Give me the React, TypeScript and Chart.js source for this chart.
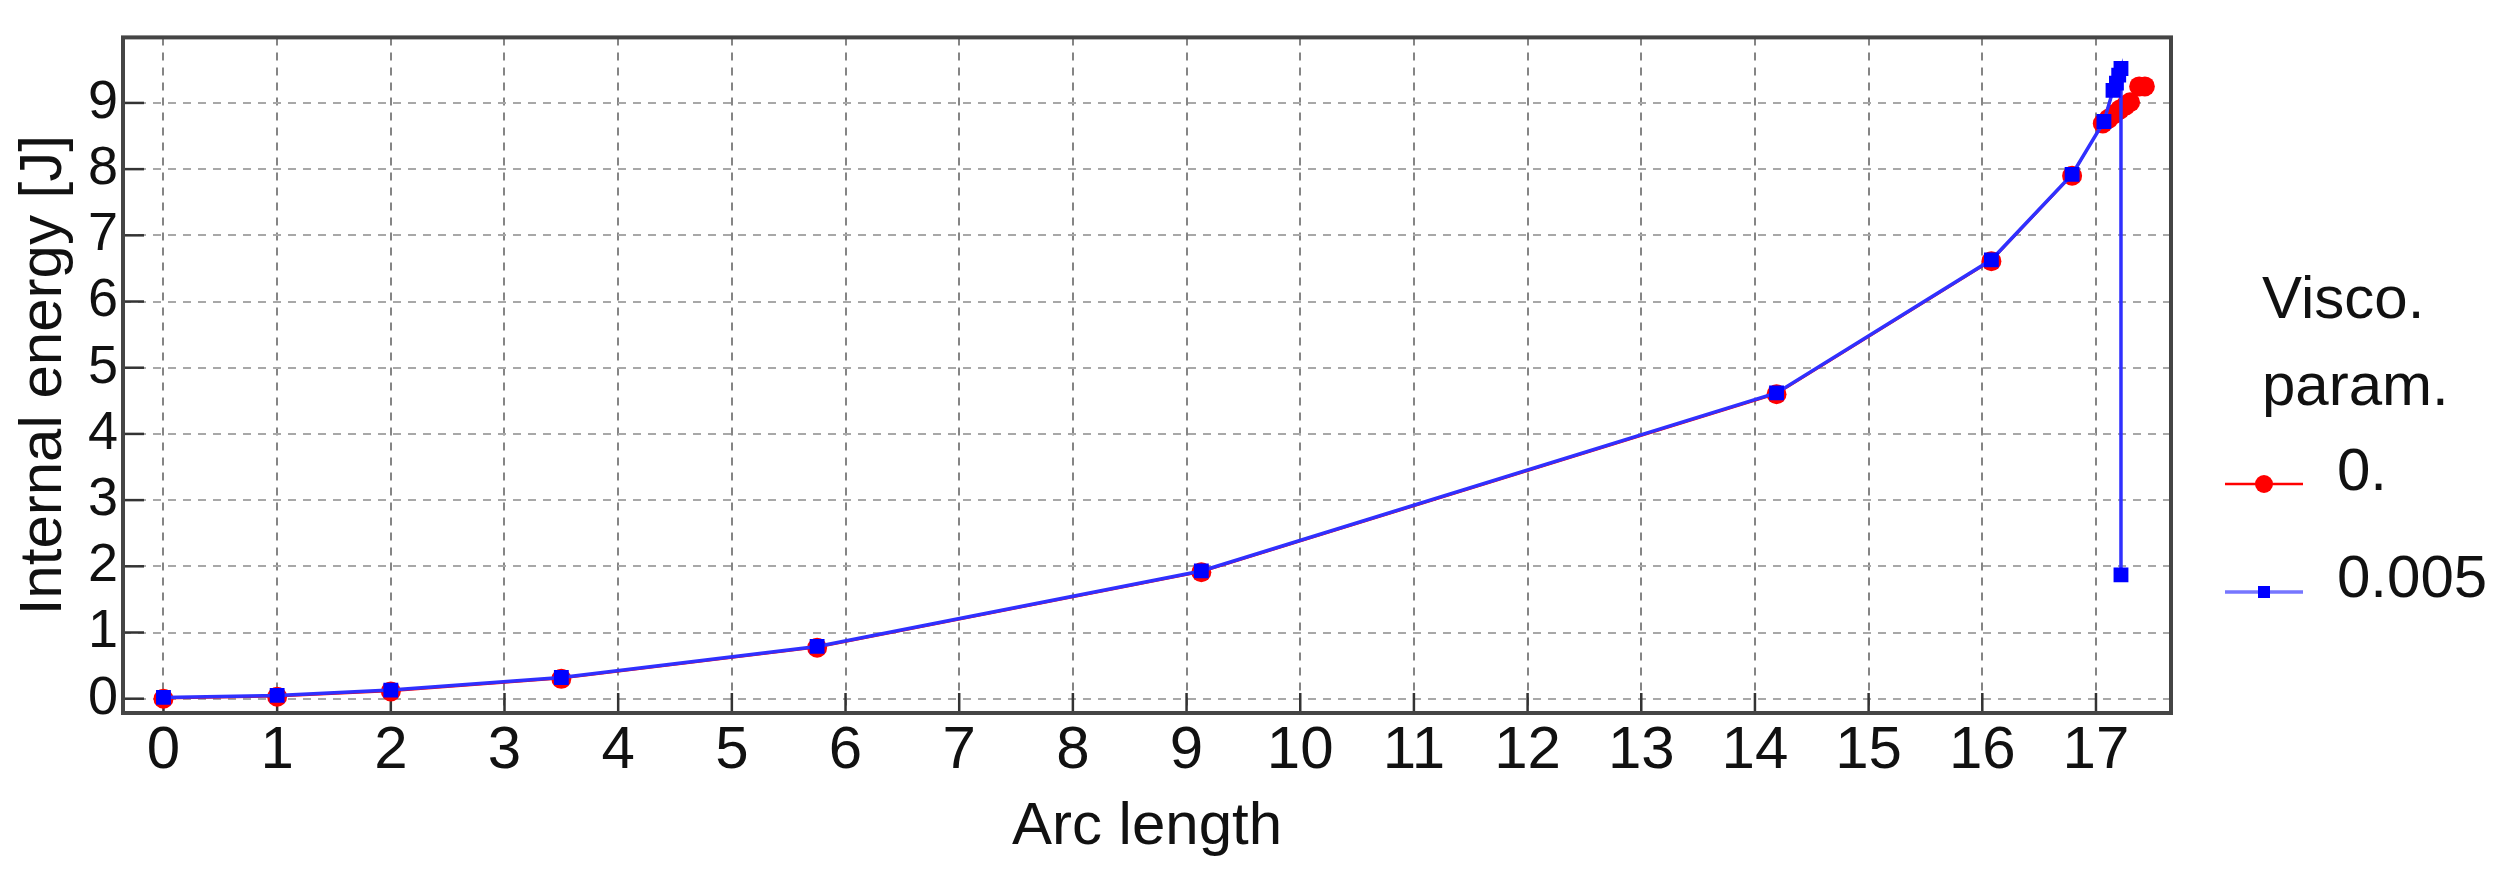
import React, { useEffect, useRef } from "react";
import { Chart, registerables } from "chart.js";

Chart.register(...registerables);

// ---- data ----
const seriesLabels = ["0.", "0.005"];
const legendTitle = ["Visco.", "param."];
const xTitle = "Arc length";
const yTitle = "Internal energy [J]";

const redX = [0, 1, 2, 3.5, 5.75, 9.13, 14.19, 16.08, 16.79, 17.06, 17.11, 17.16, 17.21, 17.26, 17.3, 17.38, 17.43];
const redY = [0.0, 0.03, 0.11, 0.3, 0.77, 1.91, 4.6, 6.61, 7.9, 8.69, 8.76, 8.83, 8.9, 8.96, 9.01, 9.25, 9.25];

const blueX = [0, 1, 2, 3.5, 5.75, 9.13, 14.19, 16.08, 16.79, 17.07, 17.15, 17.18, 17.2, 17.22, 17.22];
const blueY = [0.02, 0.05, 0.13, 0.32, 0.79, 1.93, 4.62, 6.63, 7.92, 8.72, 9.19, 9.3, 9.42, 9.52, 1.87];

const xTicks = [0, 1, 2, 3, 4, 5, 6, 7, 8, 9, 10, 11, 12, 13, 14, 15, 16, 17];
const yTicks = [0, 1, 2, 3, 4, 5, 6, 7, 8, 9];

const RED = "#ff0000";
const BLUE = "#0000ff";
const BLUE_LINE = "#3030ff";
const FONT = "'Liberation Sans', Arial, sans-serif";

const toPts = (xs: number[], ys: number[]) => xs.map((x, i) => ({ x, y: ys[i] }));

const decorPlugin = {
  id: "decor",
  beforeDatasetsDraw(chart: any) {
    const { ctx, chartArea, scales } = chart;
    ctx.save();
    ctx.strokeStyle = "#333";
    ctx.lineWidth = 2.5;
    ctx.setLineDash([]);
    xTicks.forEach((v) => {
      const px = scales.x.getPixelForValue(v);
      ctx.beginPath();
      ctx.moveTo(px, chartArea.bottom);
      ctx.lineTo(px, chartArea.bottom - 20);
      ctx.stroke();
    });
    yTicks.forEach((v) => {
      const py = scales.y.getPixelForValue(v);
      ctx.beginPath();
      ctx.moveTo(chartArea.left, py);
      ctx.lineTo(chartArea.left + 21, py);
      ctx.stroke();
    });
    ctx.restore();
  },
  afterDraw(chart: any) {
    const { ctx, chartArea } = chart;
    ctx.save();
    ctx.setLineDash([]);
    ctx.strokeStyle = "#454545";
    ctx.lineWidth = 4;
    ctx.strokeRect(chartArea.left, chartArea.top, chartArea.right - chartArea.left, chartArea.bottom - chartArea.top);

    const lx = chartArea.right;
    ctx.fillStyle = "#111";
    ctx.font = `60px ${FONT}`;
    ctx.textBaseline = "alphabetic";
    ctx.textAlign = "left";
    ctx.fillText(legendTitle[0], lx + 91, 318);
    ctx.fillText(legendTitle[1], lx + 91, 405);

    ctx.strokeStyle = RED;
    ctx.lineWidth = 2.5;
    ctx.beginPath();
    ctx.moveTo(lx + 54, 484);
    ctx.lineTo(lx + 132, 484);
    ctx.stroke();
    ctx.fillStyle = RED;
    ctx.beginPath();
    ctx.arc(lx + 93, 484, 9, 0, Math.PI * 2);
    ctx.fill();
    ctx.fillStyle = "#111";
    ctx.fillText(seriesLabels[0], lx + 166, 490);

    ctx.strokeStyle = "rgba(60,60,255,0.7)";
    ctx.lineWidth = 3.5;
    ctx.beginPath();
    ctx.moveTo(lx + 54, 592);
    ctx.lineTo(lx + 132, 592);
    ctx.stroke();
    ctx.fillStyle = BLUE;
    ctx.fillRect(lx + 93 - 6, 592 - 6, 12, 12);
    ctx.fillStyle = "#111";
    ctx.fillText(seriesLabels[1], lx + 166, 597);
    ctx.restore();
  },
};

export default function App() {
  const ref = useRef<HTMLCanvasElement | null>(null);

  useEffect(() => {
    if (!ref.current) return;
    const chart = new Chart(ref.current, {
      type: "scatter",
      data: {
        datasets: [
          {
            label: seriesLabels[0],
            data: toPts(redX, redY),
            showLine: true,
            borderColor: RED,
            backgroundColor: RED,
            borderWidth: 1.5,
            pointStyle: "circle",
            pointRadius: 10,
            pointBorderWidth: 0,
            tension: 0,
            order: 1,
          },
          {
            label: seriesLabels[1],
            data: toPts(blueX, blueY),
            showLine: true,
            borderColor: BLUE_LINE,
            backgroundColor: BLUE,
            borderWidth: 3.5,
            pointStyle: "rect",
            pointRadius: 10.5,
            pointBorderWidth: 0,
            tension: 0,
            order: 0,
          },
        ],
      },
      options: {
        responsive: false,
        animation: false,
        devicePixelRatio: 1,
        layout: { padding: { top: 23, right: 341, left: 0, bottom: 0 } },
        plugins: { legend: { display: false }, tooltip: { enabled: false } },
        scales: {
          x: {
            type: "linear",
            min: -0.356,
            max: 17.66,
            afterFit: (s: any) => {
              s.height = 177;
            },
            afterBuildTicks: (s: any) => {
              s.ticks = xTicks.map((v) => ({ value: v }));
            },
            ticks: {
              stepSize: 1,
              includeBounds: false,
              padding: 2,
              color: "#111",
              font: { family: FONT, size: 60 },
              maxRotation: 0,
              autoSkip: false,
            },
            grid: { color: "#858585", lineWidth: 2, drawTicks: false },
            border: { display: false, dash: [8, 7] },
            title: {
              display: true,
              text: xTitle,
              color: "#111",
              font: { family: FONT, size: 60 },
              padding: { top: 0, bottom: 27 },
            },
          },
          y: {
            type: "linear",
            min: -0.216,
            max: 9.99,
            afterFit: (s: any) => {
              s.width = 123;
            },
            afterBuildTicks: (s: any) => {
              s.ticks = yTicks.map((v) => ({ value: v }));
            },
            ticks: {
              stepSize: 1,
              includeBounds: false,
              padding: 5,
              color: "#111",
              font: { family: FONT, size: 54 },
              autoSkip: false,
            },
            grid: { color: "#a8a8a8", lineWidth: 2, drawTicks: false },
            border: { display: false, dash: [8, 7] },
            title: {
              display: true,
              text: yTitle,
              color: "#111",
              font: { family: FONT, size: 60 },
              padding: { top: 8, bottom: 0 },
            },
          },
        },
      },
      plugins: [decorPlugin],
    });
    return () => chart.destroy();
  }, []);

  return (
    <div style={{ position: "absolute", left: 0, top: 0, width: 2512, height: 890, background: "#fff" }}>
      <canvas ref={ref} width={2512} height={890} />
    </div>
  );
}
